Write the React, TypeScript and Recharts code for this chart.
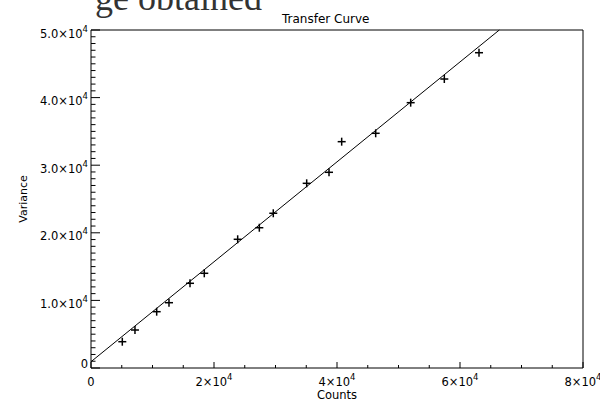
import { ComposedChart, Scatter, XAxis, YAxis } from 'recharts';

// measured points of the transfer curve
const counts = [5090, 7150, 10680, 12680, 16100, 18420, 23850, 27370, 29640, 35070, 38700, 40760, 46290, 51980, 57450, 63090];
const variance = [3890, 5620, 8330, 9660, 12530, 14010, 19040, 20750, 22890, 27320, 28950, 33480, 34720, 39250, 42750, 46640];

// fitted straight line (ends where it leaves the top of the plot)
const fitCounts = [0, 66390];
const fitVariance = [930, 50000];

const xMajorTicks = [0, 20000, 40000, 60000, 80000];
const xTickLabels = ['0', '2×10^4', '4×10^4', '6×10^4', '8×10^4'];
const yMajorTicks = [0, 10000, 20000, 30000, 40000, 50000];
const yTickLabels = ['0', '1.0×10^4', '2.0×10^4', '3.0×10^4', '4.0×10^4', '5.0×10^4'];

const xMinorStep = 5000;
const yMinorStep = 1000;
const xTicks = Array.from({ length: 80000 / xMinorStep + 1 }, (_, i) => i * xMinorStep);
const yTicks = Array.from({ length: 50000 / yMinorStep + 1 }, (_, i) => i * yMinorStep);

const points = counts.map((c, i) => ({ x: c, y: variance[i] }));
const fitLine = fitCounts.map((c, i) => ({ x: c, y: fitVariance[i] }));

const FONT = '"DejaVu Sans", sans-serif';

function TickText({ x, y, text, anchor }: { x: number; y: number; text: string; anchor: 'middle' | 'end' }) {
  const [base, exp] = text.split('^');
  return (
    <text x={x} y={y} textAnchor={anchor} fontFamily={FONT} fontSize={11.5} fill="#000">
      <tspan>{base}</tspan>
      {exp && (
        <tspan dy={-6} fontSize={8.5}>
          {exp}
        </tspan>
      )}
    </text>
  );
}

function xTick(side: 'bottom' | 'top') {
  return (props: any) => {
    const { x, y, payload } = props;
    const idx = xMajorTicks.indexOf(payload.value);
    const len = idx >= 0 ? 6 : 3;
    const dir = side === 'bottom' ? -1 : 1;
    return (
      <g>
        <line x1={x} x2={x} y1={y} y2={y + dir * len} stroke="#000" strokeWidth={1} />
        {side === 'bottom' && idx >= 0 && <TickText x={x} y={y + 18} text={xTickLabels[idx]} anchor="middle" />}
      </g>
    );
  };
}

function yTick(side: 'left' | 'right') {
  return (props: any) => {
    const { x, y, payload } = props;
    const idx = yMajorTicks.indexOf(payload.value);
    const len = idx >= 0 ? 9 : 4.5;
    const dir = side === 'left' ? 1 : -1;
    return (
      <g>
        <line x1={x} x2={x + dir * len} y1={y} y2={y} stroke="#000" strokeWidth={1} />
        {side === 'left' && idx >= 0 && (
          <TickText x={x - 3} y={idx === 0 ? y : y + 7.5} text={yTickLabels[idx]} anchor="end" />
        )}
      </g>
    );
  };
}

const Cross = (props: any) => {
  const { cx, cy } = props;
  if (cx == null || cy == null) return <g />;
  return (
    <g stroke="#000" strokeWidth={1.5}>
      <line x1={cx - 4} x2={cx + 4} y1={cy} y2={cy} />
      <line x1={cx} x2={cx} y1={cy - 4} y2={cy + 4} />
    </g>
  );
};

export default function App() {
  return (
    <div style={{ position: 'absolute', left: 0, top: 0, width: 600, height: 402, background: '#fff', overflow: 'hidden' }}>
      <ComposedChart width={600} height={402} margin={{ top: 0, right: 0, bottom: 0, left: 0 }}>
        <XAxis
          xAxisId="bottom"
          dataKey="x"
          type="number"
          domain={[0, 80000]}
          ticks={xTicks}
          interval={0}
          height={34}
          tickSize={0}
          tickMargin={0}
          tickLine={false}
          axisLine={{ stroke: '#000' }}
          tick={xTick('bottom')}
        />
        <XAxis
          xAxisId="top"
          orientation="top"
          type="number"
          domain={[0, 80000]}
          ticks={xTicks}
          interval={0}
          height={30}
          tickSize={0}
          tickMargin={0}
          tickLine={false}
          axisLine={{ stroke: '#000' }}
          tick={xTick('top')}
        />
        <YAxis
          yAxisId="left"
          dataKey="y"
          type="number"
          domain={[0, 50000]}
          ticks={yTicks}
          interval={0}
          width={91}
          tickSize={0}
          tickMargin={0}
          tickLine={false}
          axisLine={{ stroke: '#000' }}
          tick={yTick('left')}
        />
        <YAxis
          yAxisId="right"
          orientation="right"
          type="number"
          domain={[0, 50000]}
          ticks={yTicks}
          interval={0}
          width={17}
          tickSize={0}
          tickMargin={0}
          tickLine={false}
          axisLine={{ stroke: '#000' }}
          tick={yTick('right')}
        />
        <Scatter
          xAxisId="bottom"
          yAxisId="left"
          data={fitLine}
          line={{ stroke: '#000', strokeWidth: 1 }}
          shape={() => <g />}
          isAnimationActive={false}
        />
        <Scatter xAxisId="bottom" yAxisId="left" data={points} shape={Cross} isAnimationActive={false} />
      </ComposedChart>
      <svg width={600} height={402} style={{ position: 'absolute', left: 0, top: 0, pointerEvents: 'none' }}>
        <text x={95} y={9.5} fontFamily='"Liberation Serif", serif' fontSize={36} fill="#333">
          ge obtained
        </text>
        <text x={282} y={23} fontFamily={FONT} fontSize={12} fill="#000">
          Transfer Curve
        </text>
        <text x={337} y={399} textAnchor="middle" fontFamily={FONT} fontSize={11.5} fill="#000">
          Counts
        </text>
        <text x={27} y={199} textAnchor="middle" transform="rotate(-90 27 199)" fontFamily={FONT} fontSize={11} fill="#000">
          Variance
        </text>
      </svg>
    </div>
  );
}
